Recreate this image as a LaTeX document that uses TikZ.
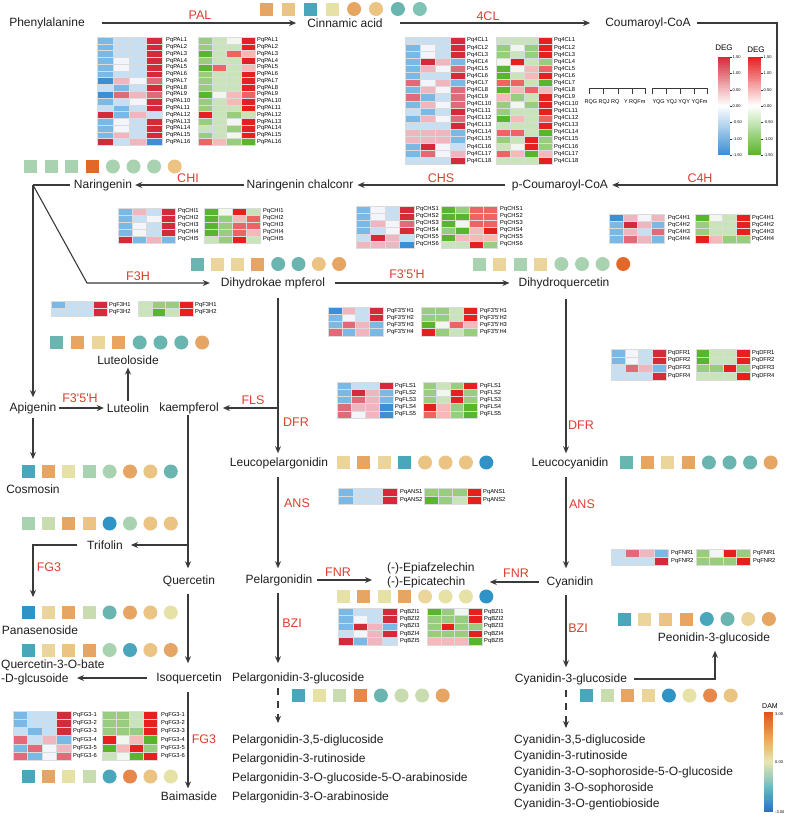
\documentclass[tikz,border=0pt]{standalone}
\usepackage{fontspec}
\setmainfont{Liberation Sans}
\usetikzlibrary{arrows.meta}
\definecolor{hmB}{HTML}{3D8FD3}
\definecolor{hmM}{HTML}{7AB8E6}
\definecolor{hmL}{HTML}{C6DFF3}
\definecolor{hmW}{HTML}{F4F5FA}
\definecolor{hmP}{HTML}{F0B6BF}
\definecolor{hmQ}{HTML}{E06A78}
\definecolor{hmR}{HTML}{D42A3A}
\definecolor{hmG}{HTML}{5AB52E}
\definecolor{hmN}{HTML}{98CC7E}
\definecolor{hmK}{HTML}{C8E4B8}
\definecolor{hmV}{HTML}{F1F7EE}
\definecolor{hmS}{HTML}{F6B9B9}
\definecolor{hmT}{HTML}{EE6464}
\definecolor{hmU}{HTML}{E61F1F}
\definecolor{sya}{HTML}{4AA7BB}
\definecolor{syb}{HTML}{2F93C6}
\definecolor{syt}{HTML}{6AB5B0}
\definecolor{syu}{HTML}{80C4B5}
\definecolor{syg}{HTML}{A8D2B0}
\definecolor{syh}{HTML}{C8DCB0}
\definecolor{syy}{HTML}{E6E2A5}
\definecolor{syl}{HTML}{EBD59A}
\definecolor{syn}{HTML}{EBC383}
\definecolor{syo}{HTML}{E6A562}
\definecolor{syr}{HTML}{E8874A}
\definecolor{syd}{HTML}{E2682A}
\definecolor{ink}{HTML}{3A3A3A}
\definecolor{enz}{HTML}{DA3F2E}
\definecolor{damA}{HTML}{E0501C}
\definecolor{damB}{HTML}{E8A352}
\definecolor{damC}{HTML}{E9E7B2}
\definecolor{damD}{HTML}{6FBBC2}
\definecolor{damE}{HTML}{2A70BF}
\newcommand\myq{\textquotesingle}
\newcommand\myhmap[5]{\foreach \rw [count=\i] in {#5}{\foreach \cc [count=\j] in \rw{%
  \fill[fill=hm\cc,draw=black!14,line width=0.25pt] ({#1+(\j-1)*#3},{#2+(\i-1)*#4}) rectangle ++(#3,#4);}}}
\newcommand\myhlab[6]{\foreach \i in {1,...,#5}{\node[hl] (#6\i) at (#1,{#2+(\i-0.5)*#3}) {#4\i};}}
\newcommand\mysym[4]{\foreach \cc [count=\j] in {#4}{%
  \pgfmathsetmacro\xx{#1+(\j-1)*#3}%
  \ifnum\j<5 \fill[fill=sy\cc] ({\xx-6.5},{#2-6.5}) rectangle ++(13,13);%
  \else \fill[fill=sy\cc] (\xx,#2) circle[radius=7];\fi}}
\newcommand\mygbar[7]{\foreach \k in {1,...,#7}{%
  \pgfmathtruncatemacro\pp{100*(\k-0.5)/#7}%
  \fill[fill=#6!\pp!#5] (#1,{#2+(\k-1)*#4/#7}) rectangle ({#1+#3},{#2+\k*#4/#7+0.3});}}
\tikzset{
  txt/.style={font=\fontsize{12}{14}\selectfont, text=black!88, inner sep=1pt},
  enzl/.style={font=\fontsize{12.5}{14}\selectfont, text=enz, inner sep=0pt},
  arr/.style={draw=ink, line width=1.1pt, -{Stealth[length=7pt,width=6pt]}},
  ln/.style={draw=ink, line width=1.1pt},
  hl/.style={anchor=west, inner sep=0pt, font=\fontsize{5.8}{6}\selectfont},
  tk/.style={anchor=west, inner sep=0pt, font=\fontsize{4}{4}\selectfont},
}
\begin{document}
\begin{tikzpicture}[x=1pt,y=-1pt]
\useasboundingbox (0,0) rectangle (790,817);
\fill[white] (0,0) rectangle (790,817);
% ---------- symbol rows
\mysym{266.5}{9}{21.9}{o,n,a,y,o,n,t,u}
\mysym{30.5}{166.5}{20.6}{g,g,g,d,g,g,g,n}
\mysym{197}{264}{20.3}{t,l,l,o,t,t,n,o}
\mysym{479}{264}{20.6}{g,l,g,l,g,g,g,d}
\mysym{56.5}{342.5}{20.8}{t,o,l,o,t,t,t,o}
\mysym{343.5}{462.5}{20.4}{l,o,l,a,n,n,n,b}
\mysym{626.5}{462.5}{20.6}{t,o,l,o,t,t,t,o}
\mysym{28}{471.5}{20.4}{a,o,y,g,g,o,n,t}
\mysym{28}{523.5}{20.4}{g,h,o,n,b,g,n,n}
\mysym{28}{612.5}{20.4}{b,l,o,h,t,o,n,y}
\mysym{28}{650}{20.4}{a,l,n,o,g,a,n,o}
\mysym{28}{776.5}{20.4}{a,o,y,h,a,r,n,y}
\mysym{343.5}{596.5}{20.4}{y,o,y,o,l,y,y,b}
\mysym{624}{619}{20.7}{a,l,n,o,a,t,l,o}
\mysym{298.5}{695.5}{20.6}{a,y,h,r,t,h,h,o}
\mysym{586.5}{695.5}{20.6}{a,h,o,l,b,y,r,n}
% ---------- heatmaps
\myhmap{97}{37}{16.25}{6.77}{{M,L,L,R},{M,L,L,R},{M,L,L,R},{M,W,L,R},{M,W,L,R},{M,L,L,R},{B,P,W,Q},{L,M,L,R},{B,Q,P,Q},{M,L,W,R},{L,M,L,R},{R,M,P,L},{M,W,L,R},{M,W,L,R},{M,P,L,R},{R,L,P,B}}
\myhlab{166}{37}{6.77}{PqPAL}{16}{palb}
\myhmap{198}{37}{14.25}{6.77}{{N,K,V,U},{N,K,K,U},{G,K,T,S},{N,K,K,U},{G,T,K,S},{N,K,K,U},{N,K,K,U},{N,K,K,U},{G,V,S,T},{N,K,S,U},{N,K,K,U},{U,K,N,K},{N,K,V,U},{K,K,N,U},{N,K,V,U},{T,S,N,G}}
\myhlab{257}{37}{6.77}{PqPAL}{16}{palg}
\myhmap{405}{37}{15}{7.07}{{L,L,L,R},{M,W,L,R},{M,W,L,R},{M,R,P,M},{M,P,W,Q},{M,L,L,R},{Q,W,P,M},{M,P,W,Q},{Q,M,L,Q},{M,P,W,Q},{L,M,L,R},{M,P,W,Q},{L,L,L,R},{P,P,P,M},{P,P,P,M},{M,R,W,L},{M,Q,W,P},{L,L,L,R}}
\myhlab{467}{37}{7.07}{Pq4CL}{18}{clb}
\myhmap{496}{37}{14}{7.07}{{K,K,K,U},{N,V,N,U},{N,K,N,U},{V,U,K,N},{G,V,S,T},{G,K,S,U},{T,T,K,G},{G,S,T,S},{S,N,K,U},{N,V,N,U},{N,K,K,U},{G,S,K,T},{K,K,K,U},{T,T,K,G},{N,K,U,N},{K,V,U,N},{T,S,G,S},{K,K,K,U}}
\myhlab{554}{37}{7.07}{Pq4CL}{18}{clg}
\myhmap{118}{208}{14.25}{7}{{M,P,L,R},{M,L,W,R},{M,W,L,R},{M,W,L,R},{R,M,P,M}}
\myhlab{178}{208}{7}{PqCHI}{5}{chib}
\myhmap{204}{208}{14}{7}{{G,V,U,K},{G,N,S,T},{G,N,T,T},{G,N,T,S},{K,N,U,K}}
\myhlab{263}{208}{7}{PqCHI}{5}{chig}
\myhmap{356}{206}{14.5}{7}{{M,W,L,R},{M,W,L,R},{M,P,W,Q},{M,L,W,R},{L,R,P,L},{P,P,P,B}}
\myhlab{416}{206}{7}{PqCHS}{6}{chsb}
\myhmap{441}{206}{14}{7}{{G,N,T,T},{G,G,T,T},{G,V,T,T},{N,G,S,U},{G,S,S,S},{K,K,U,N}}
\myhlab{500}{206}{7}{PqCHS}{6}{chsg}
\myhmap{609}{214}{13.9}{7.2}{{B,P,W,P},{M,R,P,M},{M,P,L,Q},{M,Q,P,M}}
\myhlab{668}{214}{7.2}{PqC4H}{4}{c4hb}
\myhmap{695}{214}{13.75}{7.2}{{G,V,K,U},{N,K,K,U},{N,K,K,U},{U,S,N,N}}
\myhlab{752}{214}{7.2}{PqC4H}{4}{c4hg}
\myhmap{51}{301}{14}{7.5}{{M,L,L,R},{L,L,L,R}}
\myhlab{109}{301}{7.5}{PqF3H}{2}{f3hb}
\myhmap{138}{301}{13.75}{7.5}{{K,N,N,U},{K,G,K,U}}
\myhlab{195}{301}{7.5}{PqF3H}{2}{f3hg}
\myhmap{328}{307}{13.75}{7.2}{{B,P,L,R},{M,W,L,R},{M,Q,P,M},{Q,M,P,M}}
\myhlab{387}{307}{7.2}{PqF3\myq5\myq H}{4}{f35b}
\myhmap{421}{307}{14}{7.2}{{N,N,K,U},{N,N,K,U},{G,V,T,S},{U,N,K,N}}
\myhlab{480}{307}{7.2}{PqF3\myq5\myq H}{4}{f35g}
\myhmap{337}{382}{14}{7.2}{{M,L,L,R},{M,R,P,M},{M,Q,P,M},{Q,P,P,B},{Q,W,P,B}}
\myhlab{395}{382}{7.2}{PqFLS}{5}{flsb}
\myhmap{423}{382}{13.5}{7.2}{{N,K,N,U},{N,V,U,N},{N,K,U,N},{U,S,N,G},{T,S,N,G}}
\myhlab{480}{382}{7.2}{PqFLS}{5}{flsg}
\myhmap{611}{349}{13.75}{7.7}{{M,W,L,R},{M,W,L,R},{L,Q,P,M},{L,L,L,R}}
\myhlab{668}{349}{7.7}{PqDFR}{4}{dfrb}
\myhmap{696}{349}{13.5}{7.7}{{G,K,K,U},{G,K,K,U},{N,N,U,N},{K,K,K,U}}
\myhlab{752}{349}{7.7}{PqDFR}{4}{dfrg}
\myhmap{338}{488}{14.75}{8}{{M,L,L,R},{M,L,L,R}}
\myhlab{400}{488}{8}{PqANS}{2}{ansb}
\myhmap{424}{488}{14.25}{8}{{N,N,N,U},{G,N,K,U}}
\myhlab{483}{488}{8}{PqANS}{2}{ansg}
\myhmap{611}{549}{14.25}{8.2}{{L,Q,P,M},{L,L,L,R}}
\myhlab{671}{549}{8.2}{PqFNR}{2}{fnrb}
\myhmap{696}{549}{13.5}{8.2}{{N,V,U,N},{N,N,N,U}}
\myhlab{753}{549}{8.2}{PqFNR}{2}{fnrg}
\myhmap{338}{608}{14.75}{7.4}{{M,L,L,R},{M,W,L,R},{M,R,P,M},{L,W,P,R},{R,M,P,L}}
\myhlab{400}{608}{7.4}{PqBZI}{5}{bzib}
\myhmap{427}{608}{13.75}{7.4}{{G,N,V,U},{N,N,N,U},{N,U,N,N},{N,N,N,U},{S,S,S,G}}
\myhlab{484}{608}{7.4}{PqBZI}{5}{bzig}
\myhmap{13}{711}{14.5}{8.2}{{M,L,L,R},{M,L,L,R},{L,M,L,R},{Q,L,P,M},{M,Q,W,P},{Q,M,W,Q}}
\myhlab{73}{711}{8.2}{PqFG3-}{6}{fg3b}
\myhmap{102}{711}{13.75}{8.2}{{N,N,K,U},{N,N,K,U},{N,N,N,U},{U,V,S,G},{G,S,U,N},{K,V,G,U}}
\myhlab{161}{711}{8.2}{PqFG3-}{6}{fg3g}
% ---------- legends
\mygbar{718}{57}{12}{49}{hmR}{white}{25}
\mygbar{718}{106}{12}{49}{white}{hmB}{25}
\mygbar{748}{57}{13}{49}{hmU}{white}{25}
\mygbar{748}{106}{13}{49}{white}{hmG}{25}
\foreach \tv [count=\k from 0] in {1.50,1.00,0.50,0.00,-0.50,-1.00,-1.50}{
  \draw[ink,line width=0.3pt] (730,{57+\k*98/6}) -- ++(2,0);
  \node[tk] (dga\k) at (732.5,{57+\k*98/6}) {\tv};
  \draw[ink,line width=0.3pt] (761,{57+\k*98/6}) -- ++(2,0);
  \node[tk] (dgb\k) at (763.5,{57+\k*98/6}) {\tv};}
\node[font=\fontsize{8}{9}\selectfont,inner sep=0pt] (dega) at (724,48) {DEG};
\node[font=\fontsize{8}{9}\selectfont,inner sep=0pt] (degb) at (756,50) {DEG};
\mygbar{764}{712}{9}{25}{damA}{damB}{12}
\mygbar{764}{737}{9}{25}{damB}{damC}{12}
\mygbar{764}{762}{9}{25}{damC}{damD}{12}
\mygbar{764}{787}{9}{25}{damD}{damE}{12}
\node[font=\fontsize{7}{8}\selectfont,inner sep=0pt] (dam) at (770,706) {DAM};
\node[tk] (dama) at (775,714) {3.00};
\node[tk] (damb) at (775,762) {0.00};
\node[tk] (damc) at (775,812) {-3.00};
% bracket
\draw[ink,line width=0.5pt] (589,94) -- (589,88) -- (645,88) -- (645,94) (603,88) -- (603,94) (618,88) -- (618,94) (632,88) -- (632,94);
\draw[ink,line width=0.5pt] (652,94) -- (652,88) -- (707,88) -- (707,94) (666,88) -- (666,94) (680,88) -- (680,94) (694,88) -- (694,94);
\node[font=\fontsize{5.5}{6}\selectfont,inner sep=0pt] (brA) at (615,102) {RQG RQJ RQ\ \ \ Y RQFm};
\node[font=\fontsize{5.5}{6}\selectfont,inner sep=0pt] (brB) at (680,102) {YQG YQJ YQY YQFm};
% ---------- compounds
\node[txt] (phe) at (47,23) {Phenylalanine};
\node[txt] (cin) at (345,23) {Cinnamic acid};
\node[txt] (cou) at (648,23) {Coumaroyl-CoA};
\node[txt] (pcou) at (560,185) {p-Coumaroyl-CoA};
\node[txt] (nch) at (300,185) {Naringenin chalconr};
\node[txt] (nar) at (103,185) {Naringenin};
\node[txt] (dhk) at (273,283) {Dihydrokae mpferol};
\node[txt] (dhq) at (564,283) {Dihydroquercetin};
\node[txt] (lut) at (128,360) {Luteoloside};
\node[txt] (api) at (33,408) {Apigenin};
\node[txt] (lteo) at (128,408) {Luteolin};
\node[txt] (kae) at (189,408) {kaempferol};
\node[txt] (lpel) at (279,463) {Leucopelargonidin};
\node[txt] (lcy) at (570,463) {Leucocyanidin};
\node[txt] (cos) at (33,489) {Cosmosin};
\node[txt] (tri) at (105,545) {Trifolin};
\node[txt] (que) at (189,581) {Quercetin};
\node[txt] (pel) at (279,580) {Pelargonidin};
\node[txt,anchor=west,align=left] (epi) at (386,575) {(-)-Epiafzelechin\\(-)-Epicatechin};
\node[txt] (cya) at (570,582) {Cyanidin};
\node[txt] (pan) at (40,630) {Panasenoside};
\node[txt,anchor=west,align=left] (q3) at (0,672) {Quercetin-3-O-bate\\-D-glcusoide};
\node[txt] (iso) at (189,678) {Isoquercetin};
\node[txt,anchor=west] (pel3) at (231,678) {Pelargonidin-3-glucoside};
\node[txt] (cy3) at (571,679) {Cyanidin-3-glucoside};
\node[txt] (peo) at (714,638) {Peonidin-3-glucoside};
\node[txt] (bai) at (189,796) {Baimaside};
\node[txt,anchor=west] (pl1) at (231,740) {Pelargonidin-3,5-diglucoside};
\node[txt,anchor=west] (pl2) at (231,759) {Pelargonidin-3-rutinoside};
\node[txt,anchor=west] (pl3) at (231,778) {Pelargonidin-3-O-glucoside-5-O-arabinoside};
\node[txt,anchor=west] (pl4) at (231,797) {Pelargonidin-3-O-arabinoside};
\node[txt,anchor=west] (cl1) at (513,740) {Cyanidin-3,5-diglucoside};
\node[txt,anchor=west] (cl2) at (513,756) {Cyanidin-3-rutinoside};
\node[txt,anchor=west] (cl3) at (513,772) {Cyanidin-3-O-sophoroside-5-O-glucoside};
\node[txt,anchor=west] (cl4) at (513,788) {Cyanidin 3-O-sophoroside};
\node[txt,anchor=west] (cl5) at (513,804) {Cyanidin-3-O-gentiobioside};
% ---------- enzyme labels
\node[enzl] (ePAL) at (200,15) {PAL};
\node[enzl] (e4CL) at (488,16) {4CL};
\node[enzl] (eC4H) at (700,178) {C4H};
\node[enzl] (eCHS) at (441,178) {CHS};
\node[enzl] (eCHI) at (188,178) {CHI};
\node[enzl] (eF3H) at (138,276) {F3H};
\node[enzl] (eF35a) at (407,274) {F3\myq5\myq H};
\node[enzl] (eF35b) at (80,398) {F3\myq5\myq H};
\node[enzl] (eFLS) at (253,400) {FLS};
\node[enzl] (eDFRa) at (296,422) {DFR};
\node[enzl] (eDFRb) at (581,425) {DFR};
\node[enzl] (eANSa) at (297,503) {ANS};
\node[enzl] (eANSb) at (582,504) {ANS};
\node[enzl] (eFNRa) at (338,572) {FNR};
\node[enzl] (eFNRb) at (516,573) {FNR};
\node[enzl] (eBZIa) at (292,623) {BZI};
\node[enzl] (eBZIb) at (578,628) {BZI};
\node[enzl] (eFG3a) at (49,567) {FG3};
\node[enzl] (eFG3b) at (204,739) {FG3};
% ---------- helper coordinates
\coordinate (xp) at (278,0);
\coordinate (xc) at (566,0);
\coordinate (xq) at (188,0);
\coordinate (c1) at (777,23);
\coordinate (c2) at (777,185);
\coordinate (nc) at (33,185);
\coordinate (fk) at (87,283);
\coordinate (fb) at (278,408);
\coordinate (cs) at (33,459);
\coordinate (tb) at (188,545);
\coordinate (tl) at (33,545);
\coordinate (pc) at (33,597);
\coordinate (qt) at (77,678);
\coordinate (pk) at (715,679);
\coordinate (pd) at (278,723);
\coordinate (cd) at (566,728);
% ---------- connectors
\draw[arr,shorten <=16pt,shorten >=10pt] (phe) -- (cin);
\draw[arr,shorten <=16pt,shorten >=14pt] (cin) -- (cou);
\draw[arr,shorten <=5pt,shorten >=3pt] (cou.east) -- (c1) -- (c2) -- (pcou.east);
\draw[arr,shorten <=6pt,shorten >=3pt] (pcou) -- (nch);
\draw[arr,shorten <=1pt,shorten >=2pt] (nch) -- (nar);
\draw[ln,shorten <=3pt] (nar.west) -- (nc);
\draw[arr,shorten >=4pt] (nc) -- (api.north);
\draw[arr,shorten >=10pt] (nc) -- (fk) -- (dhk.west);
\draw[arr,shorten <=9pt,shorten >=8pt] (dhk) -- (dhq);
\draw[arr,shorten <=8pt,shorten >=3pt] (dhk.south -| xp) -- (lpel.north -| xp);
\draw[arr,shorten >=3pt] (fb) -- (kae.east);
\draw[arr,shorten <=9pt,shorten >=3pt] (dhq.south -| xc) -- (lcy.north -| xc);
\draw[arr,shorten <=1pt,shorten >=2pt] (api) -- (lteo);
\draw[arr,shorten <=1pt,shorten >=2pt] (lteo.north) -- (lut.south);
\draw[arr,shorten <=3pt] (api.south) -- (cs);
\draw[arr,shorten >=6pt] (kae.south -| xq) -- (que.north -| xq);
\draw[arr,shorten >=7pt] (tb) -- (tri.east);
\draw[arr,shorten <=9pt] (tri.west) -- (tl) -- (pc);
\draw[arr,shorten <=6pt,shorten >=8pt] (que.south -| xq) -- (iso.north -| xq);
\draw[arr,shorten <=8pt] (iso.west) -- (qt);
\draw[arr,shorten <=7pt,shorten >=2pt] (iso.south -| xq) -- (bai.north -| xq);
\draw[arr,shorten <=7pt,shorten >=5pt] (lpel.south -| xp) -- (pel.north -| xp);
\draw[arr,shorten <=3pt,shorten >=14pt] (pel.east) -- (pel.east -| epi.west);
\draw[arr,shorten <=7pt,shorten >=7pt] (lcy.south -| xc) -- (cya.north -| xc);
\draw[arr,shorten <=6pt,shorten >=14pt] (cya.west) -- (cya.west -| epi.east);
\draw[arr,shorten <=6pt,shorten >=8pt] (pel.south -| xp) -- (pel3.north -| xp);
\draw[arr,shorten <=6pt,shorten >=5pt] (cya.south -| xc) -- (cy3.north -| xc);
\draw[arr,shorten <=6pt,shorten >=6pt] (cy3.east) -- (pk) -- (peo.south -| pk);
\draw[arr,dash pattern=on 7pt off 6pt,shorten <=3pt] (pel3.south -| xp) -- (pd);
\draw[arr,dash pattern=on 7pt off 6pt,shorten <=4pt] (cy3.south -| xc) -- (cd);
\end{tikzpicture}
\end{document}
